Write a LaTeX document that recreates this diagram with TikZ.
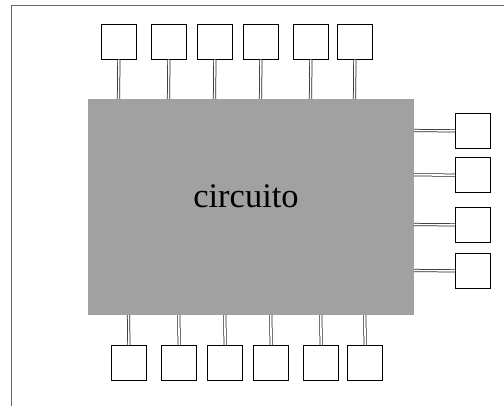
\documentclass[tikz,border=0pt]{standalone}
\usepackage{fontspec}
\setmainfont{Liberation Serif}
\begin{document}
\begin{tikzpicture}[x=1pt,y=-1pt,
  frameline/.style={draw=black!60,line width=0.9pt},
  chip/.style={fill=black!37,draw=none},
  pad/.style={draw=black,line width=0.7pt,fill=white},
  pin/.style={draw=black!85,line width=0.75pt,double=white,double distance=1.6pt}]
\useasboundingbox (0,0) rectangle (504,406);
\draw[frameline] (11,406) -- (11,5) -- (504,5);
\fill[chip] (88,99) rectangle (414,315);
\node[font=\fontsize{34.5}{40}\selectfont,anchor=base,inner sep=0pt] (lbl) at (246,207.3) {circuito};
% top pads
\foreach \i/\x in {1/101,2/151,3/197,4/243,5/293,6/337}{
  \node[pad,minimum width=35pt,minimum height=35pt,inner sep=0pt,anchor=north west] (t\i) at (\x,24) {};
  \coordinate (tc\i) at (\x+17.5,99);
  \draw[pin] (t\i.south) -- (tc\i);
}
% bottom pads
\foreach \i/\x in {1/111,2/161.3,3/207.3,4/253.3,5/303.3,6/347.3}{
  \node[pad,minimum width=35pt,minimum height=35pt,inner sep=0pt,anchor=north west] (b\i) at (\x,345) {};
  \coordinate (bc\i) at (\x+17.5,315);
  \draw[pin] (b\i.north) -- (bc\i);
}
% right pads
\foreach \i/\y in {1/113,2/157.3,3/207,4/253}{
  \node[pad,minimum width=35pt,minimum height=35pt,inner sep=0pt,anchor=north west] (r\i) at (455,\y) {};
  \coordinate (rc\i) at (414,\y+17.5);
  \draw[pin] (r\i.west) -- (rc\i);
}
\end{tikzpicture}
\end{document}
